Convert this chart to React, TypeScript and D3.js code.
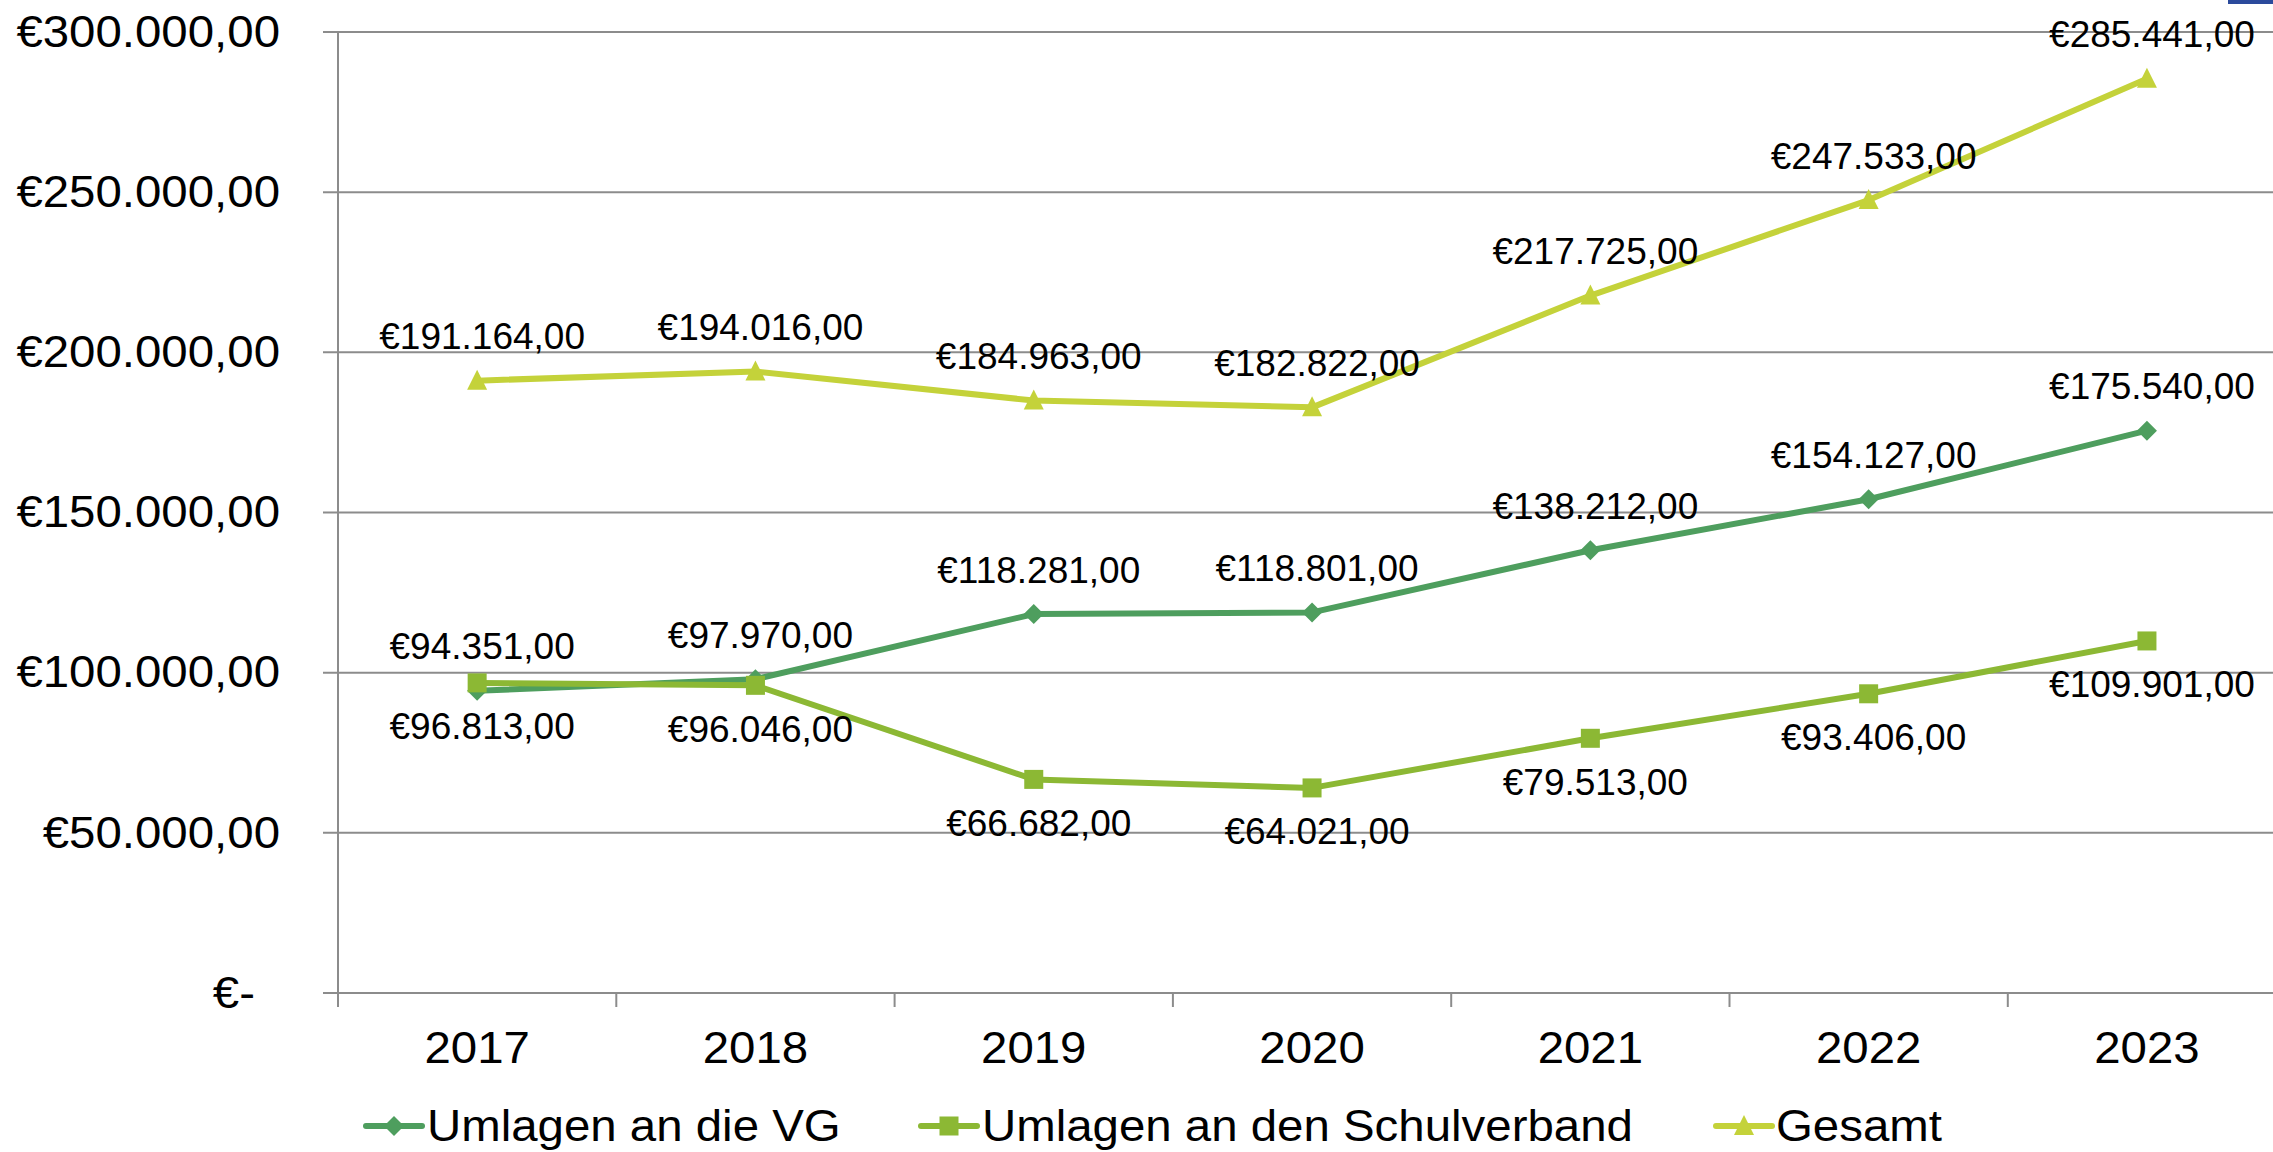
import React from "react";
import * as d3 from "d3";

const years = ["2017", "2018", "2019", "2020", "2021", "2022", "2023"];
const vgValues = [94351, 97970, 118281, 118801, 138212, 154127, 175540];
const schulValues = [96813, 96046, 66682, 64021, 79513, 93406, 109901];
const gesamtValues = [191164, 194016, 184963, 182822, 217725, 247533, 285441];
const yTicks = [0, 50000, 100000, 150000, 200000, 250000, 300000];
const seriesNames = ["Umlagen an die VG", "Umlagen an den Schulverband", "Gesamt"];
const seriesColors = ["#4E9E5E", "#8CB834", "#C4D23A"];
const seriesMarkers = ["diamond", "square", "triangle"];
const labelSides = ["above", "below", "above"];

const W = 2273;
const H = 1152;
const FONT = "'Liberation Sans', Arial, sans-serif";
const GRID = "#8C8C8C";

const fmtNum = (v: number) => {
  if (v === 0) return "€-";
  const s = Math.round(v).toString().replace(/\B(?=(\d{3})+(?!\d))/g, ".");
  return "€" + s + ",00";
};

function Marker({ type, x, y, color }: { type: string; x: number; y: number; color: string }) {
  if (type === "diamond") {
    const r = 10;
    return <path d={`M${x},${y - r}L${x + r},${y}L${x},${y + r}L${x - r},${y}Z`} fill={color} />;
  }
  if (type === "square") {
    const r = 9.5;
    return <rect x={x - r} y={y - r} width={2 * r} height={2 * r} fill={color} />;
  }
  const r = 10;
  return <path d={`M${x},${y - r - 1}L${x + r},${y + r - 1}L${x - r},${y + r - 1}Z`} fill={color} />;
}

export default function App() {
  const left = 338;
  const bandW = 278.3;
  const x = d3.scaleBand<string>().domain(years).range([left, left + bandW * years.length]).padding(0);
  const y = d3.scaleLinear().domain([0, 300000]).range([993, 32]);
  const cx = (yr: string) => (x(yr) as number) + x.bandwidth() / 2;
  const allSeries = [vgValues, schulValues, gesamtValues];
  const line = d3
    .line<number>()
    .x((_, i) => cx(years[i]))
    .y((d) => y(d));

  const mainSize = 43.5;
  const stretch = 1.09;
  const labelSize = 37;
  const labelOff = 44;

  const legendItems = [
    { lx: 366, tx: 427 },
    { lx: 921, tx: 982 },
    { lx: 1716, tx: 1776 },
  ];
  const legendY = 1126;

  return (
    <svg
      width={W}
      height={H}
      style={{ position: "absolute", left: 0, top: 0, background: "#fff" }}
      fontFamily={FONT}
    >
      <rect x={0} y={0} width={W} height={H} fill="#fff" />
      <rect x={2228} y={0} width={45} height={4} fill="#2B4A9C" />
      {/* gridlines */}
      {yTicks.map((t) => (
        <line key={t} x1={323} x2={W} y1={y(t)} y2={y(t)} stroke={GRID} strokeWidth={2} />
      ))}
      {/* y axis */}
      <line x1={left} x2={left} y1={y(300000)} y2={1007} stroke={GRID} strokeWidth={2} />
      {/* x ticks */}
      {years.map((yr) => (
        <line key={yr} x1={x(yr) as number} x2={x(yr) as number} y1={y(0)} y2={1007} stroke={GRID} strokeWidth={2} />
      ))}
      {/* y tick labels */}
      {yTicks.map((t) => (
        <text
          key={t}
          transform={`translate(${t === 0 ? 255 : 280},${y(t)}) scale(${stretch},1)`}
          textAnchor="end"
          dominantBaseline="central"
          fontSize={mainSize}
          fill="#000"
        >
          {fmtNum(t)}
        </text>
      ))}
      {/* x labels */}
      {years.map((yr) => (
        <text
          key={yr}
          transform={`translate(${cx(yr)},${1048}) scale(${stretch},1)`}
          textAnchor="middle"
          dominantBaseline="central"
          fontSize={mainSize}
          fill="#000"
        >
          {yr}
        </text>
      ))}
      {/* series */}
      {allSeries.map((vals, si) => (
        <g key={si}>
          <path d={line(vals) as string} fill="none" stroke={seriesColors[si]} strokeWidth={6} strokeLinejoin="round" />
          {vals.map((v, i) => (
            <Marker key={i} type={seriesMarkers[si]} x={cx(years[i])} y={y(v)} color={seriesColors[si]} />
          ))}
        </g>
      ))}
      {/* data labels */}
      {allSeries.map((vals, si) =>
        vals.map((v, i) => (
          <text
            key={`${si}-${i}`}
            x={cx(years[i]) + 5}
            y={y(v) + (labelSides[si] === "above" ? -labelOff : labelOff)}
            textAnchor="middle"
            dominantBaseline="central"
            fontSize={labelSize}
            fill="#000"
          >
            {fmtNum(v)}
          </text>
        ))
      )}
      {/* legend */}
      {legendItems.map((it, si) => (
        <g key={si}>
          <line
            x1={it.lx}
            x2={it.lx + 56}
            y1={legendY}
            y2={legendY}
            stroke={seriesColors[si]}
            strokeWidth={6}
            strokeLinecap="round"
          />
          <Marker type={seriesMarkers[si]} x={it.lx + 28} y={legendY} color={seriesColors[si]} />
          <text
            transform={`translate(${it.tx},${legendY}) scale(${stretch},1)`}
            dominantBaseline="central"
            fontSize={mainSize}
            fill="#000"
          >
            {seriesNames[si]}
          </text>
        </g>
      ))}
    </svg>
  );
}
